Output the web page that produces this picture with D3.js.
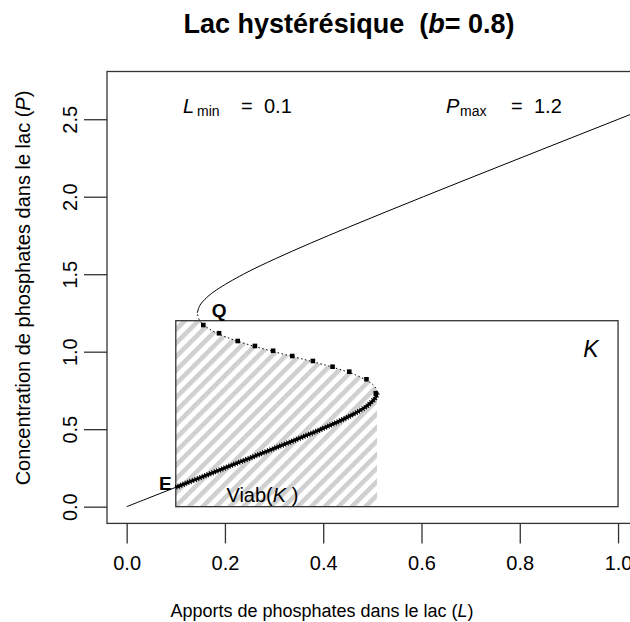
<!DOCTYPE html>
<html>
<head>
<meta charset="utf-8">
<script src="https://cdn.jsdelivr.net/npm/d3@7"></script>
<style>
  html, body { margin: 0; padding: 0; background: #ffffff; }
  svg { display: block; }
  text { font-family: "Liberation Sans", Arial, sans-serif; fill: #000; }
</style>
</head>
<body>
<svg id="chart" width="630" height="622"></svg>
<script>
// ---- Data ----
// Equilibrium curve: phosphate concentration P and the matching inflow L
const curveP = [0, 0.05, 0.1, 0.15, 0.2, 0.25, 0.3, 0.35, 0.4, 0.45, 0.5, 0.55, 0.6, 0.65, 0.7, 0.72, 0.74,
                0.76, 0.78, 0.8, 0.85, 0.9, 0.95, 1.0, 1.05, 1.1, 1.15, 1.2, 1.25,
                1.3, 1.35, 1.4, 1.5, 1.6, 1.7, 1.8, 1.9, 2.0, 2.1, 2.2, 2.3, 2.4, 2.5, 2.6, 2.7];
const curveL = [0, 0.04, 0.08, 0.12, 0.16, 0.2, 0.2399, 0.2798, 0.3194, 0.3583, 0.3961, 0.4317, 0.4635, 0.4891, 0.5055, 0.5086, 0.5095,
                0.5078, 0.5035, 0.4963, 0.4659, 0.4191, 0.3612, 0.3, 0.2436, 0.1981, 0.1664, 0.1487, 0.1437,
                0.1492, 0.1631, 0.1835, 0.2376, 0.3028, 0.3741, 0.449, 0.5259, 0.6039, 0.6826, 0.7618, 0.8413, 0.9209, 1.0007, 1.0805, 1.1604];
// Branch limits (P)
const foldLowP = 0.74;    // upper fold of the lower (stable) branch
const foldHighP = 1.25;   // lower fold of the upper (stable) branch
// Viability kernel: lower branch from E to the fold (thick)
const viabP = [0.125, 0.15, 0.2, 0.25, 0.3, 0.35, 0.4, 0.45, 0.5, 0.55, 0.6, 0.65, 0.7, 0.72, 0.74];
const viabL = [0.1, 0.12, 0.16, 0.2, 0.2399, 0.2798, 0.3194, 0.3583, 0.3961, 0.4317, 0.4635, 0.4891, 0.5055, 0.5086, 0.5095];
// Markers on the unstable branch from Q down to the fold
const markL = [0.156, 0.188, 0.226, 0.261, 0.298, 0.337, 0.379, 0.419, 0.453, 0.488, 0.507];
const markP = [1.172, 1.119, 1.069, 1.037, 1.006, 0.972, 0.94, 0.903, 0.871, 0.822, 0.732];
// Constraint set K
const Lmin = 0.1, Lmax = 1.0, Pmin = 0, Pmax = 1.2;
// Axis ticks
const xTicks = [0.0, 0.2, 0.4, 0.6, 0.8, 1.0];
const yTicks = [0.0, 0.5, 1.0, 1.5, 2.0, 2.5];

// ---- Layout ----
const svg = d3.select("#chart");
const x = d3.scaleLinear().domain([-0.04, 1.04]).range([107, 637.7]);
const y = d3.scaleLinear().domain([-0.108, 2.808]).range([523.4, 71.5]);
const X0 = x.range()[0], X1 = x.range()[1], Y0 = y.range()[0], Y1 = y.range()[1];

const defs = svg.append("defs");
defs.append("clipPath").attr("id", "plotclip").append("rect")
  .attr("x", X0).attr("y", Y1).attr("width", X1 - X0).attr("height", Y0 - Y1);
const pat = defs.append("pattern").attr("id", "hatch")
  .attr("patternUnits", "userSpaceOnUse").attr("width", 9.6).attr("height", 10)
  .attr("patternTransform", "rotate(45)");
pat.append("rect").attr("x", 0).attr("y", 0).attr("width", 4.6).attr("height", 10).attr("fill", "#d0d0d0");

const plot = svg.append("g").attr("clip-path", "url(#plotclip)");

// Hatched viability region
const pts = curveP.map((p, i) => ({P: p, L: curveL[i]}));
const upperUnstable = pts.filter(d => d.P >= foldLowP && d.P <= Pmax).sort((a, b) => b.P - a.P);
const hatchPoly = [[Lmin, Pmin], [Lmin, Pmax]]
  .concat(upperUnstable.map(d => [d.L, d.P]))
  .concat([[upperUnstable[upperUnstable.length - 1].L, Pmin]]);
plot.append("path")
  .attr("d", d3.line().x(d => x(d[0])).y(d => y(d[1]))(hatchPoly) + "Z")
  .attr("fill", "url(#hatch)").attr("stroke", "none");

// K rectangle
plot.append("rect")
  .attr("x", x(Lmin)).attr("y", y(Pmax))
  .attr("width", x(Lmax) - x(Lmin)).attr("height", y(Pmin) - y(Pmax))
  .attr("fill", "none").attr("stroke", "#333").attr("stroke-width", 1.3);

// Equilibrium curve
const line = d3.line().x(d => x(d.L)).y(d => y(d.P)).curve(d3.curveCatmullRom);
plot.append("path").datum(pts.filter(d => d.P <= foldLowP))
  .attr("d", line).attr("fill", "none").attr("stroke", "#000").attr("stroke-width", 1);
plot.append("path").datum(pts.filter(d => d.P >= foldLowP && d.P <= foldHighP))
  .attr("d", line).attr("fill", "none").attr("stroke", "#000").attr("stroke-width", 1)
  .attr("stroke-dasharray", "1.5,2.5");
plot.append("path").datum(pts.filter(d => d.P >= foldHighP))
  .attr("d", line).attr("fill", "none").attr("stroke", "#000").attr("stroke-width", 1);

// Thick lower branch (viability boundary), serrated like dense plotted points
const vpts = viabP.map((p, i) => ({P: p, L: viabL[i]}));
plot.append("path").datum(vpts)
  .attr("d", line).attr("fill", "none").attr("stroke", "#000").attr("stroke-width", 3);
plot.append("path").datum(vpts)
  .attr("d", line).attr("fill", "none").attr("stroke", "#000").attr("stroke-width", 5.5)
  .attr("stroke-dasharray", "1,1.6");

// Markers on unstable branch
plot.selectAll("rect.mark").data(markL.map((l, i) => ({L: l, P: markP[i]})))
  .enter().append("rect").attr("class", "mark")
  .attr("x", d => x(d.L) - 2.3).attr("y", d => y(d.P) - 2.3)
  .attr("width", 4.6).attr("height", 4.6).attr("fill", "#000");

// Plot frame
svg.append("rect").attr("x", X0).attr("y", Y1).attr("width", X1 - X0).attr("height", Y0 - Y1)
  .attr("fill", "none").attr("stroke", "#333").attr("stroke-width", 1.3);

// Axes
const xAxis = d3.axisBottom(x).tickValues(xTicks).tickFormat(d3.format(".1f")).tickSize(20).tickPadding(12);
const gx = svg.append("g").attr("transform", `translate(0,${Y0})`).call(xAxis);
gx.select(".domain").remove();
gx.selectAll("line").attr("stroke", "#333").attr("stroke-width", 1.3);
gx.selectAll("text").attr("font-size", 20).attr("fill", "#000")
  .attr("font-family", "Liberation Sans, Arial, sans-serif");

const yAxis = d3.axisLeft(y).tickValues(yTicks).tickFormat(d3.format(".1f")).tickSize(23).tickPadding(0);
const gy = svg.append("g").attr("transform", `translate(${X0},0)`).call(yAxis);
gy.select(".domain").remove();
gy.selectAll("line").attr("stroke", "#333").attr("stroke-width", 1.3);
gy.selectAll("text")
  .attr("font-size", 20).attr("fill", "#000").attr("font-family", "Liberation Sans, Arial, sans-serif")
  .attr("x", null).attr("dy", null)
  .attr("text-anchor", "middle")
  .attr("transform", "translate(-37,0) rotate(-90)")
  .attr("dy", "0.35em");

// Axis titles
svg.append("text").attr("x", 322).attr("y", 617).attr("text-anchor", "middle")
  .attr("font-size", 18)
  .call(t => { t.append("tspan").text("Apports de phosphates dans le lac (");
               t.append("tspan").attr("font-style", "italic").text("L");
               t.append("tspan").text(")"); });
svg.append("text").attr("transform", "translate(30,288) rotate(-90)").attr("text-anchor", "middle")
  .attr("font-size", 20)
  .call(t => { t.append("tspan").text("Concentration de phosphates dans le lac (");
               t.append("tspan").attr("font-style", "italic").text("P");
               t.append("tspan").text(")"); });

// Title
svg.append("text").attr("x", 349).attr("y", 33).attr("text-anchor", "middle")
  .attr("font-size", 27).attr("font-weight", "bold").style("white-space", "pre")
  .call(t => { t.append("tspan").text("Lac hystérésique  (");
               t.append("tspan").attr("font-style", "italic").text("b");
               t.append("tspan").text("= 0.8)"); });

// Annotations
function param(xs, ys, sym, sub, eqX, valX, val) {
  const g = svg.append("g");
  g.append("text").attr("x", xs).attr("y", ys).attr("font-size", 20).attr("font-style", "italic").text(sym);
  g.append("text").attr("x", xs + 14).attr("y", ys + 3).attr("font-size", 14).text(sub);
  g.append("text").attr("x", eqX).attr("y", ys).attr("font-size", 20).text("=");
  g.append("text").attr("x", valX).attr("y", ys).attr("font-size", 20).text(val);
}
param(183, 113, "L", "min", 241, 264, "0.1");
param(446, 113, "P", "max", 511, 534, "1.2");

svg.append("text").attr("x", x(0.173)).attr("y", y(1.225)).attr("font-size", 19).attr("font-weight", "bold").text("Q");
svg.append("text").attr("x", x(0.066)).attr("y", y(0.105)).attr("font-size", 19).attr("font-weight", "bold").text("E");
svg.append("text").attr("x", x(0.929)).attr("y", y(0.966)).attr("font-size", 23).attr("font-style", "italic").text("K");
svg.append("text").attr("x", x(0.203)).attr("y", y(0.028)).attr("font-size", 20)
  .call(t => { t.append("tspan").text("Viab(");
               t.append("tspan").attr("font-style", "italic").text("K");
               t.append("tspan").text(" )"); });
</script>
</body>
</html>
